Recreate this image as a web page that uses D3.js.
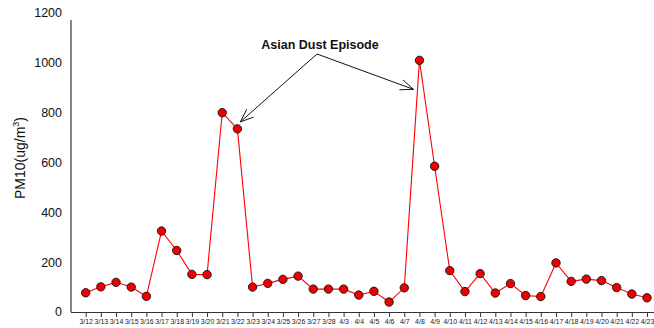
<!DOCTYPE html>
<html>
<head>
<meta charset="utf-8">
<script src="https://cdn.jsdelivr.net/npm/d3@7/dist/d3.min.js"></script>
<style>
  html, body { margin: 0; padding: 0; background: #fff; }
  svg { display: block; font-family: Arial, "Liberation Sans", sans-serif; }
</style>
</head>
<body>
<svg id="chart" width="654" height="328"></svg>
<script>
// Daily PM10 concentrations, spring sampling period
const dates = ["3/12","3/13","3/14","3/15","3/16","3/17","3/18","3/19","3/20","3/21","3/22",
  "3/23","3/24","3/25","3/26","3/27","3/28","4/3","4/4","4/5","4/6","4/7","4/8","4/9",
  "4/10","4/11","4/12","4/13","4/14","4/15","4/16","4/17","4/18","4/19","4/20","4/21","4/22","4/23"];
const pm10 = [77,101,119,100,63,325,247,151,150,800,735,
  100,115,131,144,92,92,92,68,83,40,97,1010,585,
  166,82,154,76,114,66,62,197,123,132,126,98,72,57];
const yTicks = [0,200,400,600,800,1000,1200];
const annotationText = "Asian Dust Episode";
const annotatedDates = ["3/22","4/8"];

const svg = d3.select("#chart");
const x0 = 71, yBase = 312, yTop = 13;

const x = d3.scalePoint().domain(dates).range([85.7, 647]);
const y = d3.scaleLinear().domain([0, 1200]).range([yBase, yTop]);

// y axis: line and labels, no tick marks
svg.append("line")
  .attr("x1", x0).attr("x2", x0).attr("y1", 20).attr("y2", yBase)
  .attr("stroke", "#333").attr("stroke-width", 1.2);
svg.append("g").selectAll("text").data(yTicks).join("text")
  .attr("x", 62).attr("y", d => y(d)).attr("dy", "0.35em")
  .attr("text-anchor", "end").attr("font-size", 12.5).attr("fill", "#111")
  .text(d => d);

// y axis title
const yt = svg.append("text")
  .attr("transform", "translate(25,158) rotate(-90)")
  .attr("text-anchor", "middle").attr("font-size", 14).attr("fill", "#111");
yt.append("tspan").text("PM10(ug/m");
yt.append("tspan").attr("font-size", 9).attr("dy", -6).text("3");
yt.append("tspan").attr("dy", 6).text(")");

// x axis
const xAxis = d3.axisBottom(x).tickSize(5).tickSizeOuter(0);
const gx = svg.append("g").attr("transform", `translate(0,${yBase})`).call(xAxis);
gx.select(".domain").remove();
svg.append("line")
  .attr("x1", x0).attr("x2", 654).attr("y1", yBase + 0.5).attr("y2", yBase + 0.5)
  .attr("stroke", "#333").attr("stroke-width", 1.2);
gx.selectAll(".tick line").attr("stroke", "#333");
gx.selectAll(".tick text")
  .attr("y", 7).attr("font-size", 7).attr("fill", "#222")
  .attr("font-family", "Arial, 'Liberation Sans', sans-serif");

// series line
const line = d3.line().x((d, i) => x(dates[i])).y(d => y(d));
svg.append("path").datum(pm10)
  .attr("d", line).attr("fill", "none").attr("stroke", "#ff0000").attr("stroke-width", 1.1);

// markers
svg.append("g").selectAll("circle").data(pm10).join("circle")
  .attr("cx", (d, i) => x(dates[i])).attr("cy", d => y(d)).attr("r", 4.2)
  .attr("fill", "#ee0000").attr("stroke", "#111").attr("stroke-width", 0.9);

// annotation with open arrowheads
const src = [317, 54];
svg.append("text")
  .attr("x", 320).attr("y", 49).attr("text-anchor", "middle")
  .attr("font-size", 12.5).attr("font-weight", "bold").attr("fill", "#111")
  .text(annotationText);

const targets = [
  [x(annotatedDates[0]) + 3, y(pm10[dates.indexOf(annotatedDates[0])]) - 7],
  [x(annotatedDates[1]) - 6, y(pm10[dates.indexOf(annotatedDates[1])]) + 29]
];
targets.forEach(t => {
  svg.append("line")
    .attr("x1", src[0]).attr("y1", src[1]).attr("x2", t[0]).attr("y2", t[1])
    .attr("stroke", "#111").attr("stroke-width", 1);
  const ang = Math.atan2(t[1] - src[1], t[0] - src[0]);
  const len = 14, spread = 0.38;
  [ang + Math.PI - spread, ang + Math.PI + spread].forEach(a => {
    svg.append("line")
      .attr("x1", t[0]).attr("y1", t[1])
      .attr("x2", t[0] + len * Math.cos(a)).attr("y2", t[1] + len * Math.sin(a))
      .attr("stroke", "#111").attr("stroke-width", 1);
  });
});
</script>
</body>
</html>
